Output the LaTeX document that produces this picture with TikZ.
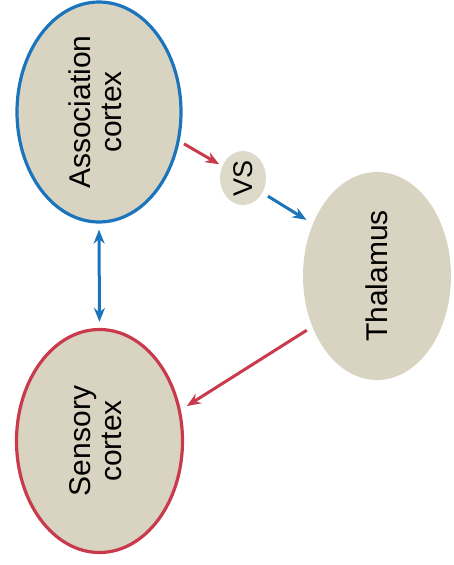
\documentclass[tikz,border=0pt]{standalone}
\usepackage{fontspec}
\setmainfont{Liberation Sans}
\usetikzlibrary{shapes.geometric,arrows.meta}
\definecolor{bluec}{HTML}{1B75BC}
\definecolor{redc}{HTML}{C93A4C}
\definecolor{beige}{HTML}{D9D4C1}
\definecolor{beigel}{HTML}{DEDACA}
\tikzset{
  blob/.style={ellipse, inner sep=0pt, fill=beige, line width=3.2pt},
  lbl/.style={font=\fontsize{30}{35}\selectfont},
  redarr/.style={draw=redc, line width=3pt, -{Stealth[length=14pt,width=11pt]}},
  bluearr/.style={draw=bluec, line width=3pt, -{Stealth[length=14pt,width=11pt]}},
  bluedbl/.style={draw=bluec, line width=3pt, {Stealth[length=14pt,width=11pt]}-{Stealth[length=14pt,width=11pt]}}
}
\begin{document}
\begin{tikzpicture}[x=1pt,y=-1pt]
\useasboundingbox (0,0) rectangle (453,565);
\node[blob, draw=bluec, minimum width=164pt, minimum height=220pt, lbl] (assoc) at (99,112)
  {\rotatebox{90}{\begin{tabular}{@{}c@{}}Association\\[-4pt]cortex\end{tabular}}};
\node[blob, draw=redc, minimum width=166pt, minimum height=223pt, lbl] (sens) at (99.5,441)
  {\rotatebox{90}{\begin{tabular}{@{}c@{}}Sensory\\[-4pt]cortex\end{tabular}}};
\node[blob, minimum width=148pt, minimum height=208pt, lbl] (thal) at (377,276)
  {\rotatebox{90}{Thalamus}};
\node[blob, fill=beigel, minimum width=46pt, minimum height=54pt, font=\fontsize{27}{30}\selectfont] (vs) at (243,178)
  {\rotatebox{90}{VS}};
\draw[redarr, shorten <=5pt, shorten >=2pt] (assoc.-20) -- (vs.150);
\draw[bluearr, shorten <=5pt, shorten >=6pt] (vs.-37) -- (thal.141);
\draw[bluedbl, shorten <=6pt, shorten >=6pt] (assoc.south) -- (sens.north);
\draw[redarr, shorten <=5pt, shorten >=7pt] (thal.-142) -- (sens.21.5);
\end{tikzpicture}
\end{document}
